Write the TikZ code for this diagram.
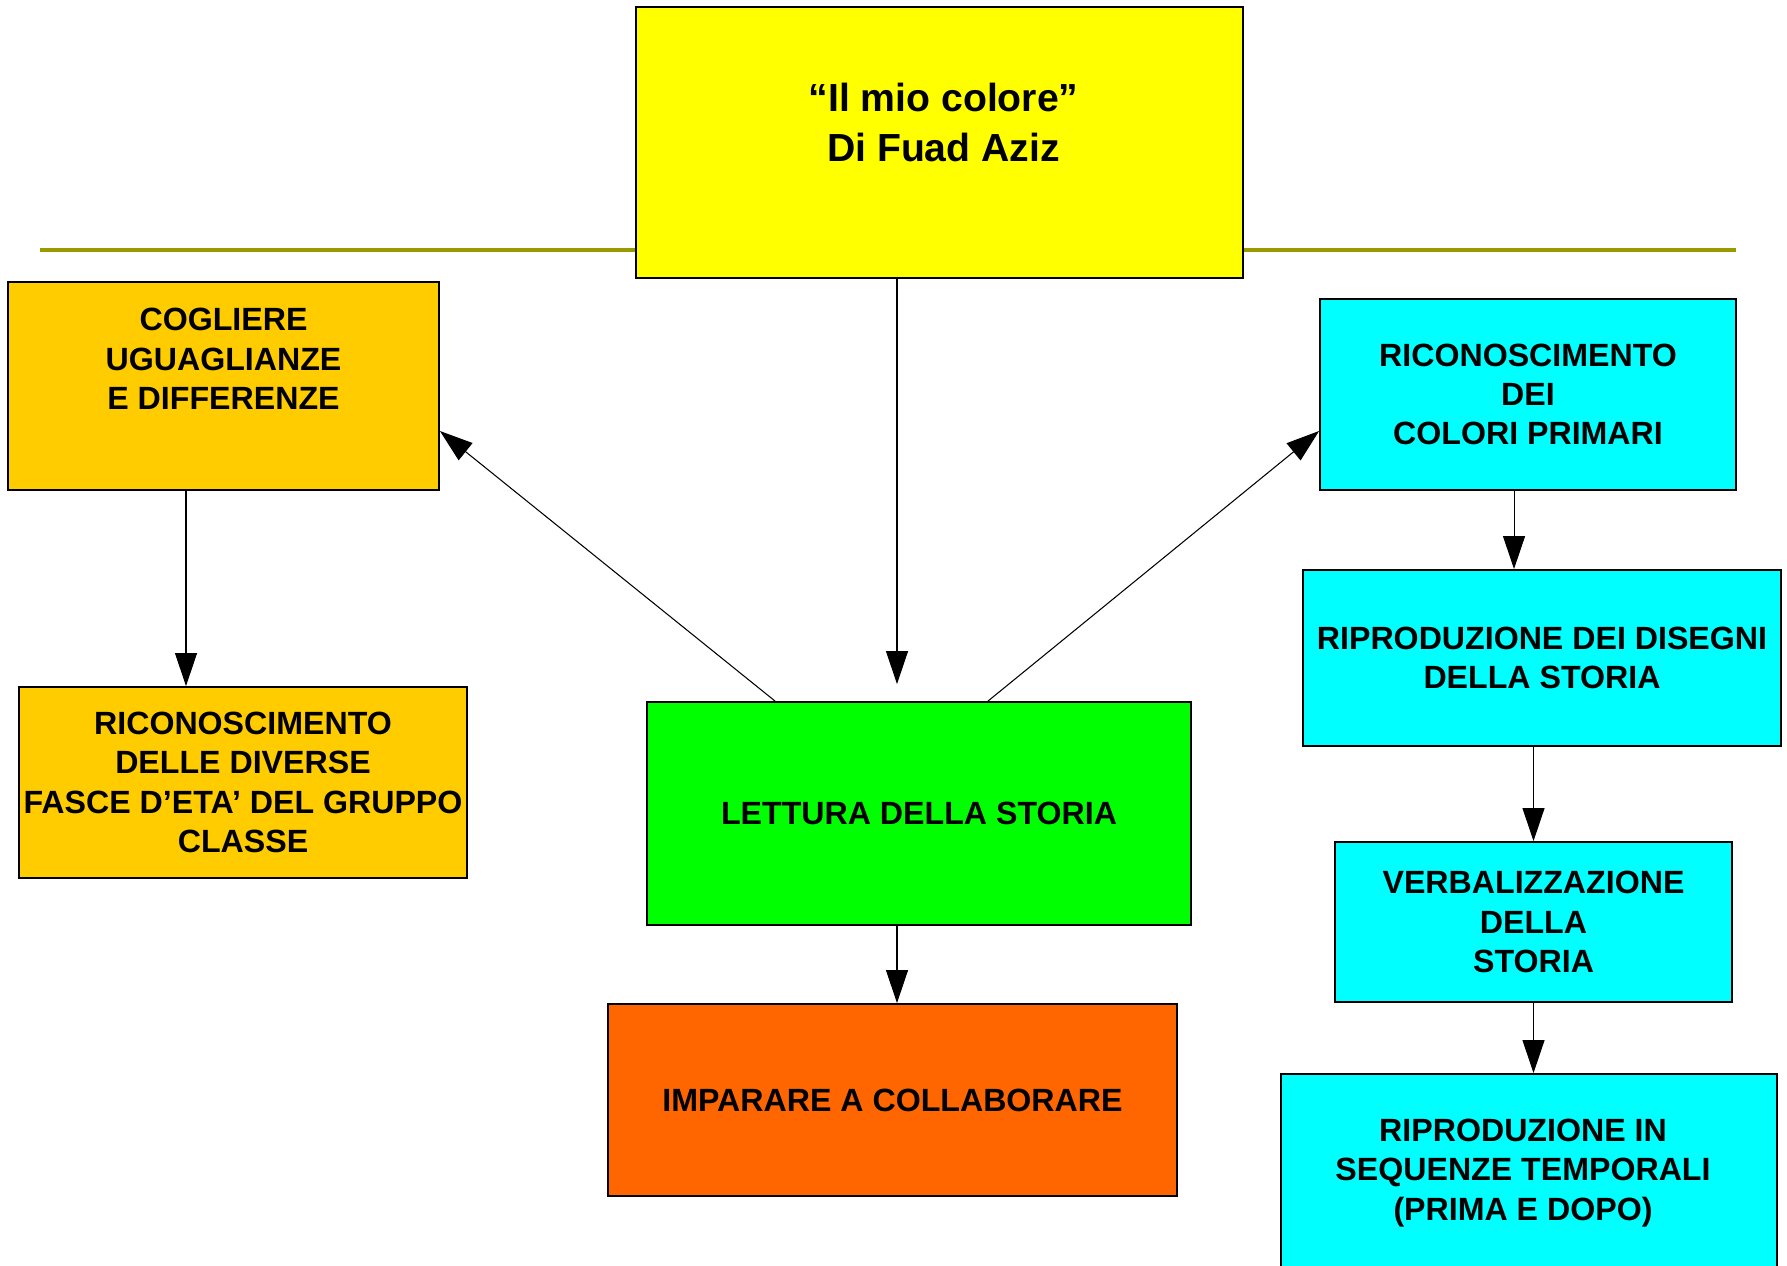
\documentclass[tikz,border=0pt]{standalone}
\usepackage{fontspec}
\setmainfont{Liberation Sans}
\usetikzlibrary{arrows.meta}
\definecolor{titlecol}{HTML}{FFFF00}
\definecolor{goldcol}{HTML}{FFCC00}
\definecolor{greencol}{HTML}{00FF00}
\definecolor{redcol}{HTML}{FF6600}
\definecolor{cyancol}{HTML}{00FFFF}
\definecolor{rulecol}{HTML}{999900}
\begin{document}
\begin{tikzpicture}[x=0.02cm, y=-0.02cm,
  box/.style={draw=black, line width=1.1pt, inner sep=0pt},
  txt/.style={align=center, inner sep=0pt, font=\fontsize{18.3}{22.4}\selectfont\bfseries},
  titletxt/.style={align=center, inner sep=0pt, font=\fontsize{22.3}{28}\selectfont\bfseries},
  arr/.style={line width=0.6pt, -{Triangle[length=0.66cm, width=0.44cm]}}]
  \useasboundingbox (0,0) rectangle (1787,1265);

  % rule behind the title
  \draw[line width=2.3pt, rulecol] (40,250) -- (1736,250);

  % boxes
  \node[box, fill=titlecol, minimum width=12.14cm, minimum height=5.42cm] (title) at (939.5,142.5) {};
  \node[box, fill=goldcol, minimum width=8.62cm, minimum height=4.16cm] (cog) at (223.5,386) {};
  \node[box, fill=goldcol, minimum width=8.96cm, minimum height=3.82cm] (eta) at (243,782.5) {};
  \node[box, fill=greencol, minimum width=10.88cm, minimum height=4.46cm] (lettura) at (919,813.5) {};
  \node[box, fill=redcol, minimum width=11.38cm, minimum height=3.84cm] (collab) at (892.5,1100) {};
  \node[box, fill=cyancol, minimum width=8.32cm, minimum height=3.82cm] (primari) at (1528,394.5) {};
  \node[box, fill=cyancol, minimum width=9.56cm, minimum height=3.52cm] (disegni) at (1542,658) {};
  \node[box, fill=cyancol, minimum width=7.94cm, minimum height=3.2cm] (verbal) at (1533.5,922) {};
  \node[box, fill=cyancol, minimum width=9.92cm, minimum height=3.96cm] (sequenze) at (1529,1173) {};

  % texts
  \node[titletxt] (title-t) at ([xshift=0.08cm, yshift=0.4cm]title.center) {“Il mio colore”\\Di Fuad Aziz};
  \node[txt] (cog-t) at ([yshift=0.54cm]cog.center) {COGLIERE\\UGUAGLIANZE\\E DIFFERENZE};
  \node[txt] (eta-t) at (eta.center) {RICONOSCIMENTO\\DELLE DIVERSE\\FASCE D’ETA’ DEL GRUPPO\\CLASSE};
  \node[txt] (lettura-t) at (lettura.center) {LETTURA DELLA STORIA};
  \node[txt] (collab-t) at (collab.center) {IMPARARE A COLLABORARE};
  \node[txt] (primari-t) at (primari.center) {RICONOSCIMENTO\\DEI\\COLORI PRIMARI};
  \node[txt] (disegni-t) at (disegni.center) {RIPRODUZIONE DEI DISEGNI\\DELLA STORIA};
  \node[txt] (verbal-t) at (verbal.center) {VERBALIZZAZIONE\\DELLA\\STORIA};
  \node[txt] (sequenze-t) at ([xshift=-0.12cm]sequenze.center) {RIPRODUZIONE IN\\SEQUENZE TEMPORALI\\(PRIMA E DOPO)};

  % arrows
  \coordinate (mid-in) at ([xshift=0.09cm]collab.north);
  \coordinate (cog-out) at ([xshift=-0.75cm]cog.south);
  \coordinate (primari-out) at ([xshift=-0.28cm]primari.south);
  \draw[arr, shorten >=0.34cm] (title.south -| mid-in) -- (lettura.north -| mid-in);
  \draw[arr] ([xshift=-2.88cm]lettura.north) -- ([yshift=-0.9cm]cog.east);
  \draw[arr] ([xshift=1.38cm]lettura.north) -- ([yshift=-0.73cm]primari.west);
  \draw[arr] (cog-out) -- (cog-out |- eta.north);
  \draw[arr] (lettura.south -| mid-in) -- (mid-in);
  \draw[arr] (primari-out) -- (primari-out |- disegni.north);
  \draw[arr] (disegni.south -| verbal.north) -- (verbal.north);
  \draw[arr] (verbal.south) -- (verbal.south |- sequenze.north);
\end{tikzpicture}
\end{document}
